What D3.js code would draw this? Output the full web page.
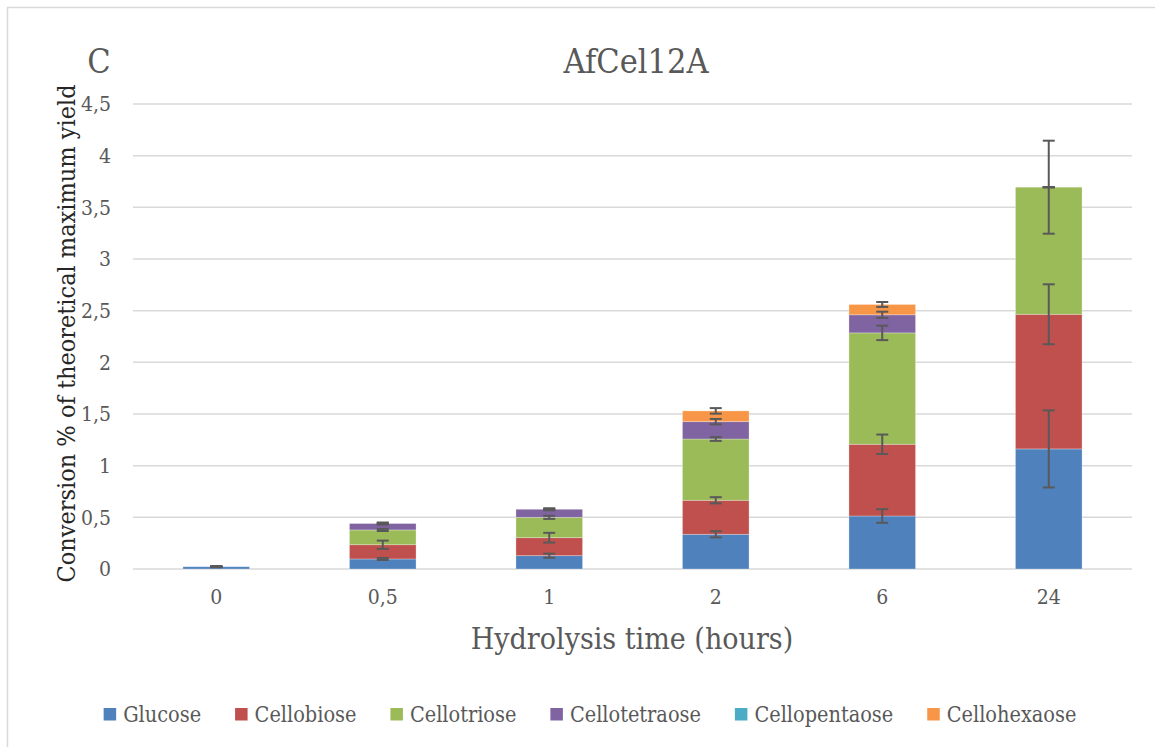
<!DOCTYPE html>
<html>
<head>
<meta charset="utf-8">
<script src="https://cdn.jsdelivr.net/npm/d3@7"></script>
<style>
  html, body { margin: 0; padding: 0; background: #fff; }
  svg text { font-family: "DejaVu Serif", serif; font-stretch: condensed; }
</style>
</head>
<body>
<svg id="chart" width="1155" height="747"></svg>
<script>
// Hydrolysis time points (hours)
const categories = ["0", "0,5", "1", "2", "6", "24"];

// Conversion (% of theoretical maximum yield) per oligosaccharide
const seriesNames = ["Glucose", "Cellobiose", "Cellotriose", "Cellotetraose", "Cellopentaose", "Cellohexaose"];
const glucose       = [0.022, 0.097, 0.129, 0.336, 0.513, 1.162];
const cellobiose    = [0,     0.138, 0.174, 0.329, 0.694, 1.303];
const cellotriose   = [0,     0.143, 0.197, 0.593, 1.078, 1.230];
const cellotetraose = [0,     0.062, 0.078, 0.168, 0.175, 0];
const cellopentaose = [0,     0,     0,     0,     0,     0];
const cellohexaose  = [0,     0,     0,     0.104, 0.100, 0];

// Standard deviations (null = no error bar)
const glucoseErr       = [0.005, 0.010, 0.020, 0.030, 0.066, 0.373];
const cellobioseErr    = [0,     0.040, 0.047, 0.030, 0.094, 0.290];
const cellotrioseErr   = [0,     0.010, 0.015, 0.018, 0.070, 0.450];
const cellotetraoseErr = [0,     0.010, 0.010, 0.026, 0.030, 0];
const cellopentaoseErr = [null,  null,  null,  null,  null,  null];
const cellohexaoseErr  = [0,     0,     0,     0.027, 0.024, 0];

const yTicks = [0, 0.5, 1, 1.5, 2, 2.5, 3, 3.5, 4, 4.5];
const colors = ["#4F81BD", "#C0504D", "#9BBB59", "#8064A2", "#4BACC6", "#F79646"];

const values = [glucose, cellobiose, cellotriose, cellotetraose, cellopentaose, cellohexaose];
const errors = [glucoseErr, cellobioseErr, cellotrioseErr, cellotetraoseErr, cellopentaoseErr, cellohexaoseErr];

const rows = categories.map((c, i) => {
  const r = { cat: c };
  seriesNames.forEach((s, k) => { r[s] = values[k][i]; });
  return r;
});
const stacked = d3.stack().keys(seriesNames)(rows);

const svg = d3.select("#chart");
const fmt = v => String(v).replace(".", ",");

// outer chart frame
svg.append("rect")
  .attr("x", 7.5).attr("y", 7.5).attr("width", 1160).attr("height", 760)
  .attr("fill", "none").attr("stroke", "#d9d9d9").attr("stroke-width", 1.5);

const plot = { left: 133, right: 1132, top: 104, bottom: 569 };

const x = d3.scaleBand().domain(categories)
  .range([plot.left, plot.right]).paddingInner(0.6).paddingOuter(0.3);
const y = d3.scaleLinear().domain([0, 4.5]).range([plot.bottom, plot.top]);

// gridlines
svg.append("g").selectAll("line").data(yTicks).join("line")
  .attr("x1", plot.left).attr("x2", plot.right)
  .attr("y1", d => y(d)).attr("y2", d => y(d))
  .attr("stroke", "#d9d9d9").attr("stroke-width", 1.5);

// y-axis tick labels
const yAxis = svg.append("g").attr("transform", `translate(${plot.left - 22},0)`)
  .call(d3.axisLeft(y).tickValues(yTicks).tickFormat(fmt).tickSize(0).tickPadding(0));
yAxis.select(".domain").remove();
yAxis.selectAll("text").attr("font-size", 21).attr("fill", "#595959")
  .style("font-family", '"DejaVu Serif", serif');

// x-axis tick labels
const xAxis = svg.append("g").attr("transform", `translate(0,${plot.bottom})`)
  .call(d3.axisBottom(x).tickSize(0).tickPadding(20));
xAxis.select(".domain").remove();
xAxis.selectAll("text").attr("font-size", 21).attr("fill", "#595959")
  .style("font-family", '"DejaVu Serif", serif');

// stacked bars
const layers = svg.append("g").selectAll("g").data(stacked).join("g")
  .attr("fill", (d, i) => colors[i]);
layers.selectAll("rect").data(d => d).join("rect")
  .attr("x", d => x(d.data.cat))
  .attr("width", x.bandwidth())
  .attr("y", d => y(d[1]))
  .attr("height", d => Math.max(0, y(d[0]) - y(d[1])))
  .attr("stroke", "rgba(255,255,255,0.35)").attr("stroke-width", 0.8);

// error bars at the top of each segment
const errData = [];
stacked.forEach((layer, k) => {
  layer.forEach((d, i) => {
    const e = errors[k][i];
    if (e === null) return;
    errData.push({ cx: x(d.data.cat) + x.bandwidth() / 2, top: d[1], e });
  });
});
const capW = 6;
const eg = svg.append("g").attr("stroke", "#595959").attr("stroke-width", 2);
eg.selectAll("line.v").data(errData).join("line").attr("class", "v")
  .attr("x1", d => d.cx).attr("x2", d => d.cx)
  .attr("y1", d => y(d.top + d.e)).attr("y2", d => y(d.top - d.e));
eg.selectAll("line.t").data(errData).join("line").attr("class", "t")
  .attr("x1", d => d.cx - capW).attr("x2", d => d.cx + capW)
  .attr("y1", d => y(d.top + d.e)).attr("y2", d => y(d.top + d.e));
eg.selectAll("line.b").data(errData).join("line").attr("class", "b")
  .attr("x1", d => d.cx - capW).attr("x2", d => d.cx + capW)
  .attr("y1", d => y(d.top - d.e)).attr("y2", d => y(d.top - d.e));

// titles
svg.append("text").attr("x", 99).attr("y", 73).attr("text-anchor", "middle")
  .attr("font-size", 34).attr("fill", "#595959").text("C");
svg.append("text").attr("x", 636).attr("y", 73).attr("text-anchor", "middle")
  .attr("font-size", 34).attr("fill", "#595959").text("AfCel12A");
svg.append("text").attr("x", 632).attr("y", 649).attr("text-anchor", "middle")
  .attr("font-size", 30).attr("fill", "#595959").text("Hydrolysis time (hours)");
svg.append("text")
  .attr("transform", `translate(75,${(plot.top + plot.bottom) / 2 - 3}) rotate(-90)`)
  .attr("text-anchor", "middle").attr("font-size", 25).attr("fill", "#262626")
  .text("Conversion % of theoretical maximum yield");

// legend
const legend = svg.append("g").attr("transform", "translate(0,714)");
const items = legend.selectAll("g").data(seriesNames).join("g");
items.append("rect").attr("width", 12.5).attr("height", 12.5).attr("y", -6)
  .attr("fill", (d, i) => colors[i]);
items.append("text").attr("x", 19.5).attr("y", 7.5).attr("font-size", 21.5)
  .attr("fill", "#595959").text(d => d);
let cursor = 0;
const offsets = [];
items.each(function () {
  offsets.push(cursor);
  const w = d3.select(this).select("text").node().getComputedTextLength();
  cursor += 19.5 + w + 34;
});
const total = cursor - 34;
const start = 590 - total / 2;
items.attr("transform", (d, i) => `translate(${start + offsets[i]},0)`);
</script>
</body>
</html>
